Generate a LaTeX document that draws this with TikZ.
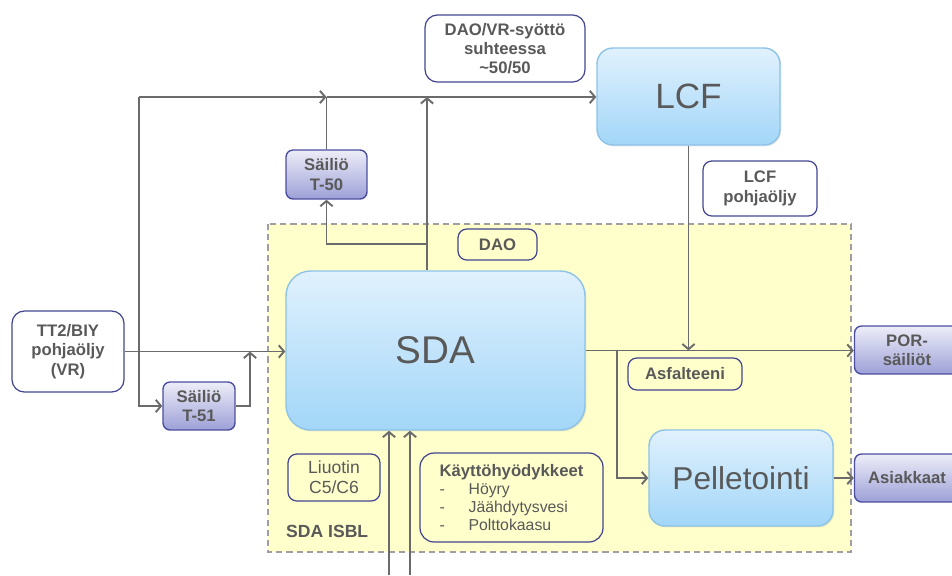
\documentclass[tikz,border=0pt]{standalone}
\usepackage{fontspec}
\setmainfont{Liberation Sans}
\usetikzlibrary{arrows.meta,shadows}

\definecolor{pipegray}{HTML}{6B6B6B}
\definecolor{txtgray}{HTML}{595959}
\definecolor{tagblue}{HTML}{43468F}
\definecolor{unittop}{HTML}{E1F1FD}
\definecolor{unitbot}{HTML}{A2D6F8}
\definecolor{unitline}{HTML}{8DC3E9}
\definecolor{tanktop}{HTML}{EDEDF8}
\definecolor{tankbot}{HTML}{9DA0D7}
\definecolor{tankline}{HTML}{4B4E9E}
\definecolor{isblfill}{HTML}{FFFFCC}

\newcommand\tagtext{\bfseries\fontsize{9.5}{11}\selectfont}

\tikzset{
  pipe/.style={draw=pipegray, line width=1.1pt},
  flow/.style={pipe, -{Straight Barb[length=3pt,width=7pt]}},
  unit/.style={draw=unitline, line width=0.8pt, top color=unittop, bottom color=unitbot,
    text=txtgray, inner sep=0pt, rounded corners=9pt,
    drop shadow={shadow xshift=0.8pt, shadow yshift=-0.8pt, opacity=0.2}},
  tank/.style={draw=tankline, line width=0.8pt, top color=tanktop, bottom color=tankbot,
    text=txtgray, inner sep=0pt, rounded corners=4pt, align=center, font=\tagtext},
  tag/.style={draw=tagblue, line width=0.7pt, text=txtgray, inner sep=0pt,
    rounded corners=5pt, align=center, font=\tagtext},
}

\begin{document}
\begin{tikzpicture}[x=0.02cm, y=-0.02cm]
\useasboundingbox (0,0) rectangle (952,575);

% SDA ISBL area
\draw[fill=isblfill, draw=gray!75, line width=0.9pt, dash pattern=on 3.5pt off 2.3pt]
  (268,224) rectangle (851,552);
\node[anchor=west, text=txtgray, font=\bfseries\fontsize{10}{12}\selectfont] (isbl) at (280,531) {SDA ISBL};

% process units
\node[unit, rounded corners=14pt, minimum width=5.98cm, minimum height=3.18cm,
  font=\fontsize{22}{26}\selectfont] (sda) at (435.5,350.5) {SDA};
\node[unit, minimum width=3.66cm, minimum height=1.94cm,
  font=\fontsize{20}{24}\selectfont] (lcf) at (688.5,96.5) {LCF};
\node[unit, minimum width=3.68cm, minimum height=1.92cm,
  font=\fontsize{18}{22}\selectfont] (pel) at (741,478) {Pelletointi};

% tanks
\node[tank, minimum width=1.62cm, minimum height=0.98cm] (t50) at (326.5,174.5) {Säiliö\\T-50};
\node[tank, minimum width=1.44cm, minimum height=0.96cm] (t51) at (199,406) {Säiliö\\T-51};
\node[tank, minimum width=2.1cm, minimum height=0.96cm] (por) at (907,350) {POR-\\säiliöt};
\node[tank, minimum width=2.1cm, minimum height=0.96cm] (asi) at (907,478) {Asiakkaat};

% labels
\node[tag, rounded corners=7pt, minimum width=2.24cm, minimum height=1.62cm] (tt2) at (68,351.5) {TT2/BIY\\pohjaöljy\\(VR)};
\node[tag, rounded corners=7pt, minimum width=3.2cm, minimum height=1.34cm] (ratio) at (505,48.5) {DAO/VR-syöttö\\suhteessa\\\textasciitilde50/50};
\node[tag, minimum width=2.28cm, minimum height=1.1cm] (lcfoil) at (760,188.5) {LCF\\pohjaöljy};
\node[tag, minimum width=1.58cm, minimum height=0.62cm] (dao) at (497.5,244.5) {DAO};
\node[tag, minimum width=2.28cm, minimum height=0.64cm] (asf) at (685,374) {Asfalteeni};
\node[tag, font=\fontsize{10}{11.5}\selectfont, minimum width=1.84cm, minimum height=0.94cm] (liuotin) at (334,477.5) {Liuotin\\C5/C6};
\node[tag, rounded corners=8pt, align=left, font=\fontsize{9}{10.2}\selectfont,
  minimum width=3.66cm, minimum height=1.78cm] (util) at (511.5,497.5)
  {{\tagtext Käyttöhyödykkeet}\\
   \makebox[16.5pt][l]{-}Höyry\\
   \makebox[16.5pt][l]{-}Jäähdytysvesi\\
   \makebox[16.5pt][l]{-}Polttokaasu};

% junctions
\coordinate (feedsplit) at (139,351.5);
\coordinate (topleft) at (139,97);
\coordinate (daoup) at (427,97);
\coordinate (daosplit) at (427,244);
\coordinate (t51join) at (250,351.5);
\coordinate (pelsplit) at (617,350.5);
\coordinate (in1) at (389,575);
\coordinate (in2) at (410,575);

% feed lines
\draw[flow] (tt2.east) -- (tt2.east -| sda.west);
\draw[pipe] (feedsplit) -- (topleft);
\draw[flow] (topleft) -- (t50.north |- topleft);
\draw[flow] (feedsplit) |- (t51.west);
\draw[flow] (t51.east) -| (t51join);
\draw[pipe] (t50.north) -- (t50.north |- topleft);
\draw[flow] (t50.north |- topleft) -- (lcf.west |- topleft);
\draw[flow] (daoup |- sda.north) -- (daoup);
\draw[flow] (daosplit) -| (t50.south);
\draw[flow] (in1) -- (in1 |- sda.south);
\draw[flow] (in2) -- (in2 |- sda.south);

% products
\draw[flow] (sda.east) -- (sda.east -| por.west);
\draw[flow] (lcf.south) -- (lcf.south |- sda.east);
\draw[flow] (pelsplit) |- (pel.west);
\draw[flow] (pel.east) -- (pel.east -| asi.west);
\end{tikzpicture}
\end{document}
